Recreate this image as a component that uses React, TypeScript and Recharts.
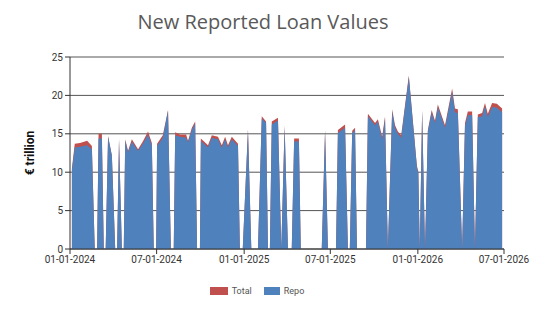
import React from 'react'
import { AreaChart, Area, XAxis, YAxis, CartesianGrid, Legend } from 'recharts';

// values, € trillion
const dates = [
  '2024-01-05', '2024-01-11', '2024-01-22', '2024-02-06', '2024-02-16', '2024-02-22', '2024-02-27',
  '2024-03-01', '2024-03-08', '2024-03-12', '2024-03-16', '2024-03-21', '2024-03-29', '2024-04-05',
  '2024-04-09', '2024-04-13', '2024-04-19', '2024-04-23', '2024-04-26', '2024-05-02', '2024-05-10',
  '2024-05-23', '2024-06-02', '2024-06-13', '2024-06-21', '2024-06-25', '2024-06-30', '2024-07-02',
  '2024-07-14', '2024-07-25', '2024-07-31', '2024-08-06', '2024-08-09', '2024-08-19', '2024-09-01',
  '2024-09-05', '2024-09-13', '2024-09-20', '2024-09-24', '2024-09-30', '2024-10-02', '2024-10-17',
  '2024-10-25', '2024-11-07', '2024-11-15', '2024-11-22', '2024-11-28', '2024-12-06', '2024-12-19',
  '2024-12-23', '2024-12-29', '2025-01-09', '2025-01-16', '2025-01-30', '2025-02-07', '2025-02-16',
  '2025-02-20', '2025-02-24', '2025-02-28', '2025-03-13', '2025-03-20', '2025-03-27', '2025-04-03',
  '2025-04-11', '2025-04-16', '2025-04-26', '2025-04-30', '2025-06-13', '2025-06-20', '2025-06-26',
  '2025-07-13', '2025-07-17', '2025-08-01', '2025-08-07', '2025-08-11', '2025-08-16', '2025-08-22',
  '2025-08-26', '2025-09-14', '2025-09-18', '2025-10-03', '2025-10-09', '2025-10-18', '2025-10-24',
  '2025-10-30', '2025-11-08', '2025-11-14', '2025-11-20', '2025-11-27', '2025-12-13', '2025-12-30',
  '2026-01-02', '2026-01-05', '2026-01-10', '2026-01-16', '2026-01-22', '2026-01-30', '2026-02-06',
  '2026-02-12', '2026-02-27', '2026-03-14', '2026-03-20', '2026-03-26', '2026-04-04', '2026-04-10',
  '2026-04-16', '2026-04-25', '2026-05-01', '2026-05-07', '2026-05-16', '2026-05-22', '2026-05-28',
  '2026-06-06', '2026-06-16', '2026-06-27',
];

const totalValues = [
  10.5, 13.7, 13.8, 14.1, 13.4, 0, 0,
  15.0, 15.0, 0, 0, 14.7, 12.2, 0,
  0, 14.4, 0, 0, 14.3, 12.8, 14.3,
  13.0, 14.0, 15.3, 13.8, 0, 0, 13.7,
  14.8, 18.1, 0, 0, 15.2, 14.9, 14.9,
  14.1, 15.8, 16.6, 0, 0, 14.4, 13.5,
  14.8, 14.6, 13.5, 14.6, 13.5, 14.6, 13.7,
  0, 0, 15.6, 0, 0, 17.3, 16.6,
  0, 0, 16.6, 17.1, 0, 16.1, 0,
  0, 14.4, 14.4, 0, 0, 15.5, 0,
  0, 15.5, 16.2, 0, 0, 15.4, 15.8,
  0, 0, 17.6, 16.4, 16.9, 14.6, 17.3,
  0, 18.2, 16.1, 15.3, 14.8, 22.6, 10.8,
  10.1, 0, 18.1, 0, 15.5, 18.1, 16.7,
  18.8, 16.1, 20.9, 18.3, 18.2, 0, 16.4,
  17.9, 17.9, 0, 17.5, 17.7, 19.0, 17.6,
  19.0, 18.9, 18.3,
];

const repoValues = [
  10.3, 13.2, 13.3, 13.5, 13.0, 0, 0,
  14.4, 14.4, 0, 0, 14.6, 12.1, 0,
  0, 14.3, 0, 0, 14.1, 12.6, 14.0,
  12.8, 13.7, 14.9, 13.5, 0, 0, 13.4,
  14.5, 18.0, 0, 0, 14.8, 14.6, 14.5,
  13.9, 15.5, 16.4, 0, 0, 14.1, 13.2,
  14.5, 14.3, 13.2, 14.3, 13.2, 14.3, 13.4,
  0, 0, 15.5, 0, 0, 17.0, 16.4,
  0, 0, 16.2, 16.7, 0, 15.9, 0,
  0, 14.0, 14.0, 0, 0, 15.4, 0,
  0, 15.1, 15.8, 0, 0, 15.1, 15.5,
  0, 0, 17.3, 16.1, 16.6, 14.3, 17.0,
  0, 17.9, 15.8, 15.0, 14.5, 22.4, 10.6,
  9.9, 0, 18.0, 0, 15.3, 17.8, 16.4,
  18.5, 15.8, 20.5, 17.8, 17.7, 0, 16.0,
  17.4, 17.4, 0, 17.2, 17.3, 18.6, 17.2,
  18.5, 18.4, 17.8,
];

const tickDates = ['2024-01-01', '2024-07-01', '2025-01-01', '2025-07-01', '2026-01-01', '2026-07-01'];
const yTicks = [0, 5, 10, 15, 20, 25];

const toTime = (d: string) => Date.parse(d + 'T00:00:00Z');

const data = dates.map((d, i) => ({ t: toTime(d), total: totalValues[i], repo: repoValues[i] }));

const fmtDate = (v: number) => {
  const d = new Date(v);
  const mm = String(d.getUTCMonth() + 1).padStart(2, '0');
  const dd = String(d.getUTCDate()).padStart(2, '0');
  return `${mm}-${dd}-${d.getUTCFullYear()}`;
};

const RED = '#c0504d';
const BLUE = '#4f81bd';

const LegendBox = () => (
  <div style={{ display: 'flex', justifyContent: 'center', alignItems: 'center', paddingTop: 7, fontFamily: 'Roboto', fontSize: 9, color: '#555' }}>
    <span style={{ display: 'inline-block', width: 18, height: 8, background: RED, marginRight: 4 }} />
    <span style={{ marginRight: 12 }}>Total</span>
    <span style={{ display: 'inline-block', width: 16, height: 8, background: BLUE, marginRight: 4 }} />
    <span>Repo</span>
  </div>
);

export default function App() {
  return (
    <div style={{ position: 'absolute', left: 0, top: 0, width: 550, height: 309, background: '#fff' }}>
      <div style={{
        position: 'absolute', top: 8, left: 0, width: 526, textAlign: 'center',
        fontFamily: 'Open Sans', fontSize: 20, color: '#595959',
      }}>
        New Reported Loan Values
      </div>
      <AreaChart width={550} height={309} data={data} margin={{ top: 57, right: 46, left: 10, bottom: 10 }}>
        <CartesianGrid vertical={false} stroke="#555" />
        <XAxis
          dataKey="t" type="number" scale="time"
          domain={[toTime(tickDates[0]), toTime(tickDates[tickDates.length - 1])]}
          ticks={tickDates.map(toTime)} tickFormatter={fmtDate}
          stroke="#333" tick={{ fill: '#333', fontSize: 10, fontFamily: 'Roboto' }}
          tickSize={5} height={30}
        />
        <YAxis
          domain={[0, 25]} ticks={yTicks} width={60} stroke="#333"
          tick={{ fill: '#333', fontSize: 10, fontFamily: 'Roboto' }} tickSize={5}
          label={{ value: '€ trillion', angle: -90, position: 'insideLeft', offset: 20,
            style: { textAnchor: 'middle', fontWeight: 'bold', fontSize: 12, fontFamily: 'Roboto', fill: '#111' } }}
        />
        <Legend verticalAlign="bottom" height={20} content={() => <LegendBox />} />
        <Area type="linear" dataKey="total" name="Total" stroke="none" fill={RED} fillOpacity={1} isAnimationActive={false} />
        <Area type="linear" dataKey="repo" name="Repo" stroke="none" fill={BLUE} fillOpacity={1} isAnimationActive={false} />
      </AreaChart>
    </div>
  );
}
